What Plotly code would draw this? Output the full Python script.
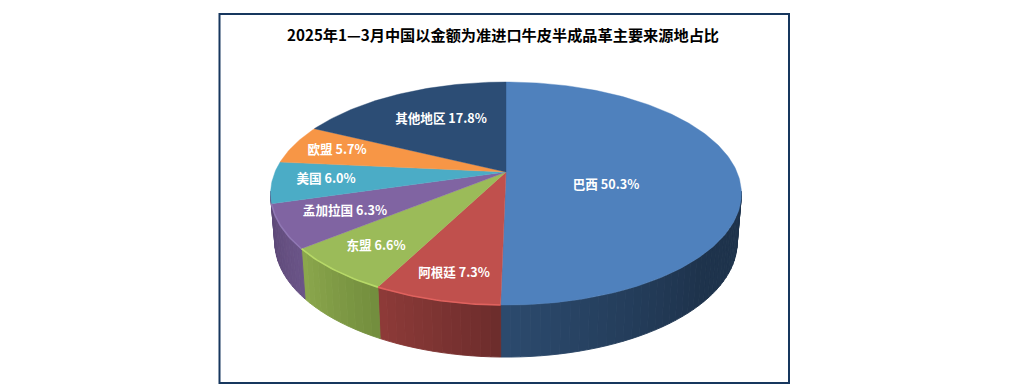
import math
import plotly.graph_objects as go

# ---- data ----
title = "2025年1—3月中国以金额为准进口牛皮半成品革主要来源地占比"
categories = ["巴西", "阿根廷", "东盟", "孟加拉国", "美国", "欧盟", "其他地区"]
shares = [50.3, 7.3, 6.6, 6.3, 6.0, 5.7, 17.8]

# ---- style ----
top_colors = ["#4F81BD", "#C0504D", "#9BBB59", "#8064A2", "#4BACC6", "#F79646", "#2C4D75"]
rim_colors = ["#4F81BD", "#E0625E", "#B7D968", "#9078B4", "#4BACC6", "#F79646", "#2C4D75"]
# wall colours run from the slice's left end to its right end on the page
wall_left = ["#2C4A6E", "#8E3B39", "#8CA84D", "#5E4A78", "#5E4A78", "#5E4A78", "#5E4A78"]
wall_right = ["#1E334C", "#6C2C2B", "#728D3D", "#6B5488", "#5E4A78", "#5E4A78", "#5E4A78"]
label_centres = [(606, 185.5), (454, 273.5), (376, 246.5), (345, 211.5), (326, 179.5), (337, 150.5), (441, 119.5)]

# perspective disc geometry (page pixels); the page has an 8px body margin
CX, CY = 506.0, 172.0
SX, SY, K = 231.0, 107.4, 0.193
LOW_X, LOW_Y, LOW_DY = 0.982, 1.03, 48.0
STEP = 1.0
WALL_FROM, WALL_TO = 100.0, 260.0
PAGE_W, PAGE_H, BODY = 1011, 385, 8


def project(theta, lower=False):
    u, v = math.sin(math.radians(theta)), math.cos(math.radians(theta))
    w = 1 + K * v
    x, y = SX * u / w, -SY * v / w
    if lower:
        return CX + x * LOW_X, CY + LOW_DY + y * LOW_Y
    return CX + x, CY + y


def hex_mix(a, b, t):
    t = min(1.0, max(0.0, t))
    ca = [int(a[i:i + 2], 16) for i in (1, 3, 5)]
    cb = [int(b[i:i + 2], 16) for i in (1, 3, 5)]
    return "#" + "".join(f"{round(p + (q - p) * t):02X}" for p, q in zip(ca, cb))


def arange(a, b, step):
    n = max(1, int(abs(b - a) / step))
    return [a + (b - a) * i / n for i in range(n + 1)]


bounds = [0.0]
for s in shares:
    bounds.append(bounds[-1] + s / sum(shares) * 360)

fig = go.Figure()


def poly(xs, ys, color, width=0.6):
    fig.add_trace(go.Scatter(x=xs, y=ys, mode="lines", fill="toself", fillcolor=color,
                             line=dict(color=color, width=width), hoverinfo="skip", showlegend=False))


# side walls, drawn as narrow strips so each slice carries a gradient
for i in range(len(shares)):
    a, b = bounds[i], bounds[i + 1]
    lo, hi = max(a, WALL_FROM), min(b, WALL_TO)
    if lo >= hi:
        continue
    n = max(1, int((hi - lo) / 2))
    for j in range(n):
        t0 = lo + (hi - lo) * j / n
        t1 = lo + (hi - lo) * (j + 1) / n
        x0, y0 = project(t0)
        x1, y1 = project(t1)
        x2, y2 = project(t1, True)
        x3, y3 = project(t0, True)
        frac = (j + 0.5) / n  # along theta: page right to left
        pos = 1 - frac        # 0 at the slice's left end on the page, 1 at its right end
        if i == 0:
            pos = (b - (t0 + t1) / 2) / 48.0  # blue reaches its dark tone early
        poly([x0, x1, x2, x3, x0], [y0, y1, y2, y3, y0], hex_mix(wall_left[i], wall_right[i], pos), width=0.9)

# top face
for i in range(len(shares)):
    pts = [project(t) for t in arange(bounds[i], bounds[i + 1], STEP)]
    xs = [CX] + [p[0] for p in pts] + [CX]
    ys = [CY] + [p[1] for p in pts] + [CY]
    poly(xs, ys, top_colors[i], width=0.4)

# bevel highlight along the front rim
for i in range(1, 4):
    lo, hi = max(bounds[i], 100), min(bounds[i + 1], 262)
    if lo >= hi:
        continue
    pts = [project(t) for t in arange(lo, hi, STEP)]
    fig.add_trace(go.Scatter(x=[p[0] for p in pts], y=[p[1] for p in pts], mode="lines",
                             line=dict(color=rim_colors[i], width=1.6), hoverinfo="skip", showlegend=False))

# labels
fig.add_trace(go.Scatter(
    x=[c[0] for c in label_centres], y=[c[1] for c in label_centres], mode="text",
    text=[f"<b>{c} {s:.1f}%</b>" for c, s in zip(categories, shares)],
    textposition="middle center",
    textfont=dict(family="Noto Sans CJK SC, Open Sans", size=12.6, color="#FFFFFF"),
    hoverinfo="skip", showlegend=False))

fig.update_layout(
    width=PAGE_W - BODY, height=PAGE_H - BODY, autosize=False,
    margin=dict(l=0, r=0, t=0, b=0),
    paper_bgcolor="#FFFFFF", plot_bgcolor="#FFFFFF",
    xaxis=dict(range=[BODY, PAGE_W], visible=False, fixedrange=True),
    yaxis=dict(range=[PAGE_H, BODY], visible=False, fixedrange=True),
    shapes=[dict(type="rect", xref="x", yref="y", x0=219.5, x1=789, y0=14, y1=383,
                 line=dict(color="#17375E", width=2), fillcolor="rgba(0,0,0,0)", layer="below")],
    annotations=[dict(text=f"<b>{title}</b>", x=503, y=33.5, xref="x", yref="y", showarrow=False,
                      font=dict(family="Noto Sans CJK SC, Open Sans", size=15.2, color="#000000"),
                      xanchor="center", yanchor="middle")],
)
fig.write_html("out.html", config={"displayModeBar": False})
